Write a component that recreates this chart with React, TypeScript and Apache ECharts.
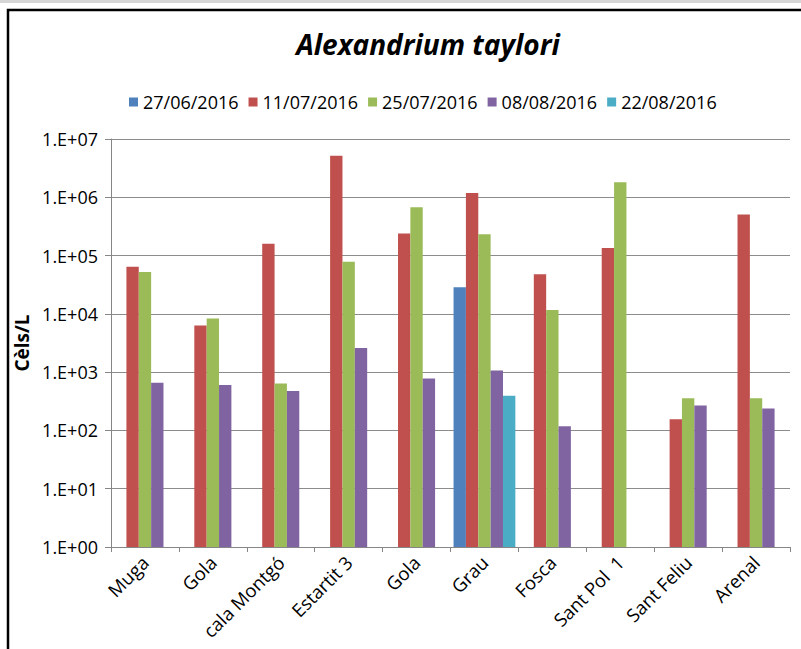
import React, { useEffect, useRef } from "react";
import * as echarts from "echarts";

const categories = ["Muga", "Gola", "cala Montgó", "Estartit 3", "Gola", "Grau", "Fosca", "Sant Pol  1", "Sant Feliu", "Arenal"];
const seriesNames = ["27/06/2016", "11/07/2016", "25/07/2016", "08/08/2016", "22/08/2016"];
const s1 = [null, null, null, null, null, 28600, null, null, null, null];
const s2 = [64000, 6300, 159000, 5160000, 239000, 1190000, 47800, 135000, 156, 506000];
const s3 = [52000, 8300, 640, 78000, 677000, 233000, 11600, 1820000, 358, 358];
const s4 = [658, 600, 473, 2600, 780, 1070, 118, null, 268, 238];
const s5 = [null, null, null, null, null, 393, null, null, null, null];
const colors = ["#4F81BD", "#C0504D", "#9BBB59", "#8064A2", "#4BACC6"];
const title = "Alexandrium taylori";
const yName = "Cèls/L";

const FONT = "'Open Sans', 'Noto Sans', sans-serif";

export default function App() {
  const ref = useRef<HTMLDivElement>(null);
  useEffect(() => {
    if (!ref.current) return;
    const chart = echarts.init(ref.current, null, { renderer: "svg" });
    const all = [s1, s2, s3, s4, s5];
    chart.setOption({
      animation: false,
      backgroundColor: "#ffffff",
      color: colors,
      title: {
        text: title,
        left: 423,
        top: 25,
        textAlign: "center",
        textStyle: { fontFamily: FONT, fontSize: 28, fontWeight: "bold", fontStyle: "italic", color: "#000" },
      },
      legend: {
        left: 124,
        top: 86,
        itemWidth: 9,
        itemHeight: 9,
        itemGap: 10,
        icon: "rect",
        textStyle: { fontFamily: FONT, fontSize: 18, color: "#000", lineHeight: 22 },
        data: seriesNames,
      },
      grid: { left: 111, right: 11, top: 139, bottom: 102, containLabel: false },
      xAxis: {
        type: "category",
        data: categories,
        axisLine: { lineStyle: { color: "#868686", width: 1 } },
        axisTick: { show: true, length: 5, lineStyle: { color: "#868686" } },
        axisLabel: { rotate: 45, margin: 12, fontFamily: FONT, fontSize: 18.5, color: "#000", interval: 0 },
      },
      yAxis: {
        type: "log",
        logBase: 10,
        min: 1,
        max: 10000000,
        splitNumber: 7,
        name: yName,
        nameLocation: "middle",
        nameGap: 80,
        nameRotate: 90,
        nameTextStyle: { fontFamily: FONT, fontSize: 19, fontWeight: "bold", color: "#000" },
        axisLine: { show: true, lineStyle: { color: "#868686", width: 1 } },
        axisTick: { show: true, length: 6, lineStyle: { color: "#868686" } },
        splitLine: { show: true, lineStyle: { color: "#8c8c8c", width: 1 } },
        axisLabel: {
          margin: 13,
          fontFamily: FONT,
          fontSize: 18,
          color: "#000",
          formatter: (v: number) => "1.E+" + String(Math.round(Math.log10(v))).padStart(2, "0"),
        },
      },
      series: seriesNames.map((n, i) => ({
        name: n,
        type: "bar",
        data: all[i],
        barGap: "0%",
        barCategoryGap: "9%",
        itemStyle: { color: colors[i] },
      })),
      graphic: [
        { type: "rect", silent: true, shape: { x: 0, y: 0, width: 801, height: 3 }, style: { fill: "#d6d6d6" } },
        {
          type: "rect",
          silent: true,
          shape: { x: 8, y: 10, width: 900, height: 800 },
          style: { fill: "none", stroke: "#000", lineWidth: 2.5 },
        },
      ],
    });
    return () => chart.dispose();
  }, []);
  return <div ref={ref} style={{ position: "fixed", left: 0, top: 0, width: 801, height: 649 }} />;
}
